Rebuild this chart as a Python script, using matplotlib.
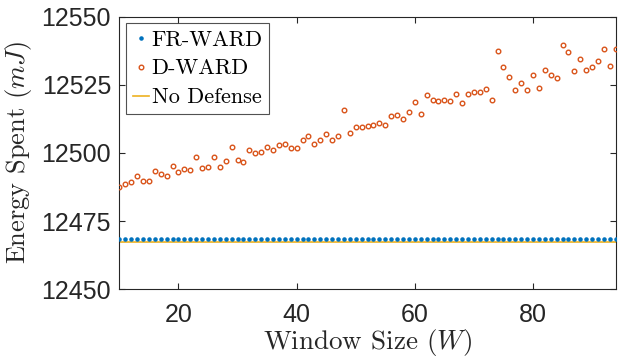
import numpy as np
import matplotlib
matplotlib.use("Agg")
import matplotlib.pyplot as plt

window = list(range(10, 95))
d_ward = [12487.7, 12488.8, 12489.4, 12491.5, 12489.9, 12489.9, 12493.4, 12492.4, 12491.5, 12495.1,
          12493.2, 12494.3, 12493.9, 12498.4, 12494.4, 12494.9, 12498.6, 12494.9, 12497.1, 12502.1,
          12497.6, 12496.7, 12501.2, 12499.9, 12500.3, 12502.3, 12501.0, 12502.8, 12503.4, 12502.0,
          12502.0, 12504.7, 12506.4, 12503.4, 12504.7, 12507.1, 12504.7, 12506.1, 12515.9, 12507.2,
          12509.7, 12509.6, 12509.9, 12510.4, 12511.0, 12510.3, 12513.7, 12514.1, 12512.6, 12515.0,
          12518.8, 12514.3, 12521.3, 12519.5, 12519.0, 12519.5, 12519.1, 12521.5, 12518.3, 12521.8,
          12522.5, 12522.3, 12523.5, 12519.4, 12537.3, 12531.5, 12527.7, 12523.1, 12525.7, 12523.1,
          12528.6, 12524.0, 12530.4, 12528.6, 12527.5, 12539.7, 12537.1, 12530.0, 12534.3, 12530.4,
          12531.5, 12533.7, 12538.2, 12531.9, 12538.3]
fr_ward = [12468.3] * 85
no_defense = 12467.4

x_ticks = [20, 40, 60, 80]
y_ticks = [12450, 12475, 12500, 12525, 12550]

plt.rcParams['mathtext.fontset'] = 'cm'
plt.rcParams['font.family'] = ['Liberation Sans', 'DejaVu Sans']
plt.rcParams['axes.formatter.use_mathtext'] = True

fig = plt.figure(figsize=(6.2, 3.58), dpi=100)
ax = fig.add_axes([0.1925, 0.1919, 0.8006, 0.7615])

blue = '#0072BD'
orange = '#D95319'
yellow = '#EDB120'

ax.plot(window, fr_ward, linestyle='none', marker='.', color=blue, markersize=4.5, label='FR-WARD', zorder=3)
ax.plot(window, d_ward, linestyle='none', marker='o', markerfacecolor='none', markeredgecolor=orange,
        markersize=3.3, markeredgewidth=1.0, label='D-WARD', zorder=3)
ax.axhline(no_defense, color=yellow, linewidth=1.2, label='No Defense', zorder=2)

ax.set_xlim(10, 94)
ax.set_ylim(12450, 12550)
ax.set_xticks(x_ticks)
ax.set_yticks(y_ticks)
ax.set_xticklabels([str(v) for v in x_ticks])
ax.set_yticklabels([str(v) for v in y_ticks])

axcol = '#262626'
for s in ax.spines.values():
    s.set_color(axcol)
    s.set_linewidth(0.8)
ax.tick_params(direction='in', length=4.5, width=0.8, colors=axcol, labelsize=18,
               top=True, right=True)
ax.tick_params(axis='x', pad=10)
ax.tick_params(axis='y', pad=6)

ax.set_xlabel(r'Window Size $(W)$', fontsize=19.5, color=axcol, labelpad=0, family='cmr10')
ax.set_ylabel(r'Energy Spent $(mJ)$', fontsize=19, color=axcol, labelpad=5, family='cmr10')

leg = ax.legend(loc='upper left', bbox_to_anchor=(0.0, 1.0), frameon=True, fancybox=False,
                handlelength=0.75, handletextpad=0.1, borderpad=0.3, labelspacing=0.42,
                borderaxespad=0.3, prop={'family': 'cmr10', 'size': 16})
leg.get_frame().set_edgecolor(axcol)
leg.get_frame().set_linewidth(0.8)

fig.savefig('out.png', dpi=100)
